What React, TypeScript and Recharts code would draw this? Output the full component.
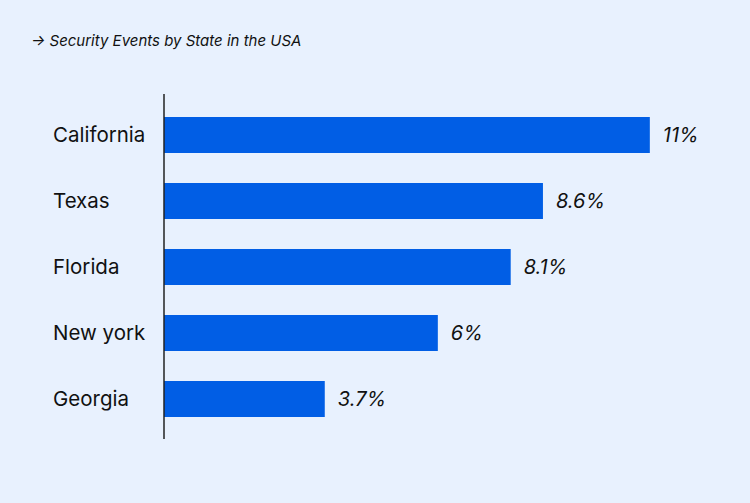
import React from 'react';
import { BarChart, Bar, XAxis, YAxis, LabelList } from 'recharts';

const states = ['California', 'Texas', 'Florida', 'New york', 'Georgia'];
// bar lengths as drawn in the picture (the printed labels are rounded)
const shares = [11, 8.58, 7.85, 6.2, 3.64];
const shareLabels = ['11%', '8.6%', '8.1%', '6%', '3.7%'];

const data = states.map((state, i) => ({ state, share: shares[i], label: shareLabels[i] }));

const FONT = 'Inter, "Noto Sans", sans-serif';

const StateTick = (props: any) => {
  const { y, payload } = props;
  return (
    <text x={53} y={y} dy={7} textAnchor="start" fill="#111" fontSize={20.5} fontFamily={FONT}>
      {payload.value}
    </text>
  );
};

const App = () => (
  <div style={{ position: 'absolute', left: 0, top: 0, width: 750, height: 503, background: '#E8F1FE', fontFamily: FONT }}>
    <div style={{ position: 'absolute', left: 31, top: 31, fontSize: 15, fontStyle: 'italic', color: '#111' }}>
      → Security Events by State in the USA
    </div>
    <BarChart
      width={750}
      height={503}
      data={data}
      layout="vertical"
      margin={{ top: 94, right: 56, bottom: 64, left: 0 }}
    >
      <XAxis type="number" domain={[0, 12]} hide />
      <YAxis
        type="category"
        dataKey="state"
        width={164}
        padding={{ top: 8, bottom: 7 }}
        axisLine={{ stroke: '#222', strokeWidth: 1.5 }}
        tickLine={false}
        tick={<StateTick />}
      />
      <Bar dataKey="share" fill="#015EE5" barSize={36} isAnimationActive={false}>
        <LabelList
          dataKey="label"
          position="right"
          offset={13}
          style={{ fontSize: 20, fontStyle: 'italic', fill: '#111', fontFamily: FONT }}
        />
      </Bar>
    </BarChart>
  </div>
);

export default App;
